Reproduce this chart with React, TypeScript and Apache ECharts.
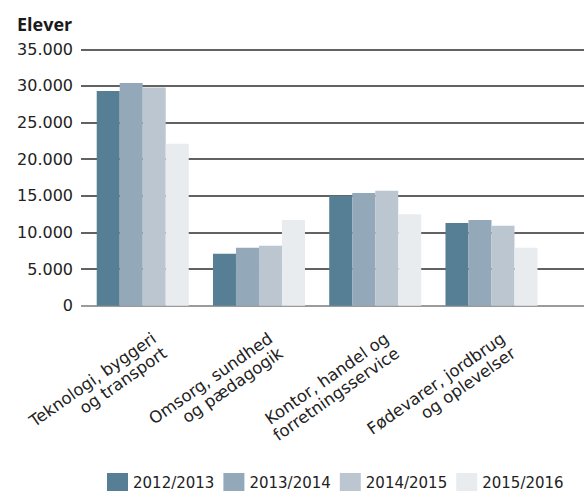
import React, { useEffect, useRef } from "react";
import * as echarts from "echarts";

const categories = [
  "Teknologi, byggeri\nog transport",
  "Omsorg, sundhed\nog pædagogik",
  "Kontor, handel og\nforretningsservice",
  "Fødevarer, jordbrug\nog oplevelser",
];
const seasons = ["2012/2013", "2013/2014", "2014/2015", "2015/2016"];
const values2012 = [29300, 7100, 15000, 11300];
const values2013 = [30400, 7900, 15400, 11700];
const values2014 = [29800, 8200, 15700, 10900];
const values2015 = [22100, 11700, 12500, 7900];
const seriesValues = [values2012, values2013, values2014, values2015];
const colors = ["#567f95", "#93a8b8", "#bcc6d0", "#e8ecef"];
const yMin = 0;
const yMax = 35000;
const yInterval = 5000;

const FONT = "'Open Sans', sans-serif";
const LABEL_FONT = "'DejaVu Sans', sans-serif";

export default function App() {
  const ref = useRef<HTMLDivElement>(null);
  useEffect(() => {
    if (!ref.current) return;
    const chart = echarts.init(ref.current, undefined, { renderer: "svg" });
    const plotTop = 49.3;
    const plotHeight = 256.4;
    const option: any = {
      animation: false,
      backgroundColor: "#ffffff",
      textStyle: { fontFamily: FONT },
      title: {
        text: "Elever",
        left: 12,
        top: 10,
        textStyle: { fontFamily: FONT, fontWeight: "bold", fontSize: 18, color: "#1a1a1a" },
      },
      legend: {
        left: 102,
        top: 468,
        itemWidth: 21,
        itemHeight: 20,
        itemGap: 9,
        icon: "rect",
        data: seasons,
        textStyle: { fontFamily: LABEL_FONT, fontSize: 15, color: "#222" },
      },
      grid: [
        { left: 81, top: plotTop, width: 503, height: plotHeight },
        { left: 84.6, top: plotTop, width: 465, height: plotHeight },
        { left: 101.5, top: plotTop, width: 465, height: 335 - plotTop },
      ],
      xAxis: [
        { gridIndex: 0, type: "category", show: false, data: categories },
        { gridIndex: 1, type: "category", show: false, data: categories },
        {
          gridIndex: 2,
          type: "category",
          data: categories,
          axisLine: { show: false },
          axisTick: { show: false },
          axisLabel: {
            interval: 0,
            rotate: 35,
            margin: 9,
            fontFamily: LABEL_FONT,
            fontSize: 16.5,
            lineHeight: 18,
            color: "#222",
          },
        },
      ],
      yAxis: [
        {
          gridIndex: 0,
          type: "value",
          min: yMin,
          max: yMax,
          interval: yInterval,
          axisLine: { show: false },
          axisTick: { show: false },
          axisLabel: {
            margin: 8,
            fontFamily: LABEL_FONT,
            fontSize: 16,
            color: "#222",
            formatter: (v: number) => (v === 0 ? "0" : v.toLocaleString("de-DE")),
          },
          splitLine: {
            lineStyle: {
              width: 1.6,
              color: ["#7a7a7a", "#2e2e2e", "#2e2e2e", "#2e2e2e", "#2e2e2e", "#2e2e2e", "#2e2e2e", "#2e2e2e"],
            },
          },
        },
        { gridIndex: 1, type: "value", min: yMin, max: yMax, interval: yInterval, show: false, splitLine: { show: false } },
        { gridIndex: 2, type: "value", show: false, splitLine: { show: false } },
      ],
      series: seasons.map((name, i) => ({
        name,
        type: "bar",
        xAxisIndex: 1,
        yAxisIndex: 1,
        data: seriesValues[i],
        barWidth: 23,
        barGap: "0%",
        itemStyle: { color: colors[i] },
      })),
    };
    chart.setOption(option);
    return () => chart.dispose();
  }, []);
  return (
    <div
      ref={ref}
      style={{ position: "fixed", left: 0, top: 0, width: 584, height: 491 }}
    />
  );
}
